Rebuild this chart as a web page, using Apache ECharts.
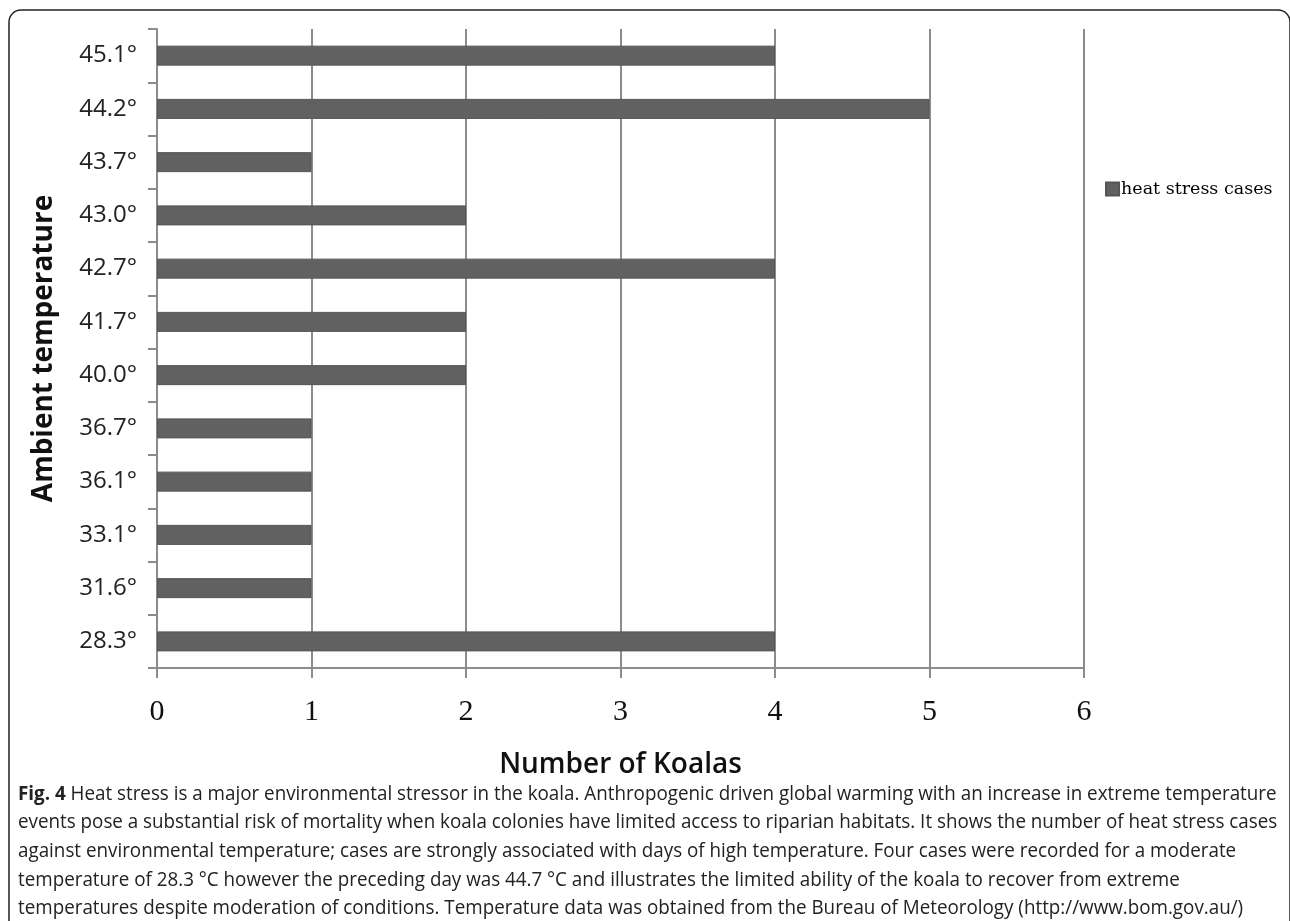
<!DOCTYPE html>
<html>
<head>
<meta charset="utf-8">
<script src="https://cdn.jsdelivr.net/npm/echarts@6/dist/echarts.min.js"></script>
<style>
html,body{margin:0;padding:0;background:#fff;}
#chart{width:1290px;height:921px;}
</style>
</head>
<body>
<div id="chart"></div>
<script>
const categories = ['28.3°','31.6°','33.1°','36.1°','36.7°','40.0°','41.7°','42.7°','43.0°','43.7°','44.2°','45.1°'];
const heatStressCases = [4,1,1,1,1,2,2,4,2,1,5,4];
const xTicks = [0,1,2,3,4,5,6];
const seriesName = 'heat stress cases';
const xAxisTitle = 'Number of Koalas';
const yAxisTitle = 'Ambient temperature';
const captionLines = [
  '{b|Fig. 4} Heat stress is a major environmental stressor in the koala. Anthropogenic driven global warming with an increase in extreme temperature',
  'events pose a substantial risk of mortality when koala colonies have limited access to riparian habitats. It shows the number of heat stress cases',
  'against environmental temperature; cases are strongly associated with days of high temperature. Four cases were recorded for a moderate',
  'temperature of 28.3 °C however the preceding day was 44.7 °C and illustrates the limited ability of the koala to recover from extreme',
  'temperatures despite moderation of conditions. Temperature data was obtained from the Bureau of Meteorology (http://www.bom.gov.au/)'
];

const chart = echarts.init(document.getElementById('chart'));
const capGraphics = captionLines.map((t, i) => ({
  type: 'text',
  left: 18,
  top: 784 + i * 28.6,
  scaleX: 0.94,
  style: {
    text: t,
    fontFamily: 'Open Sans',
    fontSize: 20,
    fill: '#222',
    rich: { b: { fontFamily: 'Open Sans', fontWeight: 'bold', fontSize: 20, fill: '#222' } }
  }
}));

chart.setOption({
  animation: false,
  backgroundColor: '#fff',
  grid: { left: 157, right: 206, top: 29, bottom: 253, containLabel: false },
  legend: {
    show: true,
    left: 1100, top: 175,
    itemWidth: 13, itemHeight: 13, itemGap: 2,
    icon: 'rect',
    textStyle: { fontFamily: 'DejaVu Serif', fontSize: 17.5, color: '#000', padding: [0,0,0,-3] },
    data: [seriesName]
  },
  xAxis: {
    type: 'value',
    min: 0, max: 6, interval: 1,
    name: xAxisTitle,
    nameLocation: 'middle',
    nameGap: 83,
    nameTextStyle: { fontFamily: 'Open Sans', fontWeight: 600, fontSize: 28, color: '#111' },
    axisLine: { show: true, lineStyle: { color: '#8c8c8c', width: 2 } },
    axisTick: { show: true, length: 10, lineStyle: { color: '#8c8c8c', width: 2 } },
    axisLabel: { fontFamily: 'Liberation Serif', fontSize: 30, color: '#111', margin: 29,
      formatter: v => xTicks.includes(v) ? String(v) : '' },
    splitLine: { show: true, lineStyle: { color: '#8c8c8c', width: 2 } }
  },
  yAxis: {
    type: 'category',
    data: categories,
    name: yAxisTitle,
    nameLocation: 'middle',
    nameGap: 99,
    nameRotate: 90,
    nameTextStyle: { fontFamily: 'Open Sans', fontWeight: 'bold', fontSize: 28, color: '#111' },
    axisLine: { show: true, lineStyle: { color: '#8c8c8c', width: 2 } },
    axisTick: { show: true, length: 9, alignWithLabel: false, lineStyle: { color: '#8c8c8c', width: 2 } },
    axisLabel: { fontFamily: 'Open Sans', fontSize: 24, color: '#222', margin: 20 },
    splitLine: { show: false }
  },
  series: [{
    name: seriesName,
    type: 'bar',
    data: heatStressCases,
    barWidth: 20,
    itemStyle: { color: '#616161', borderColor: '#555', borderWidth: 1 }
  }],
  graphic: [
    { type: 'rect', shape: { x: 9, y: 10, width: 1281, height: 940, r: 12 },
      style: { fill: 'none', stroke: '#222', lineWidth: 1.5 }, silent: true },
    ...capGraphics
  ]
});
</script>
</body>
</html>
